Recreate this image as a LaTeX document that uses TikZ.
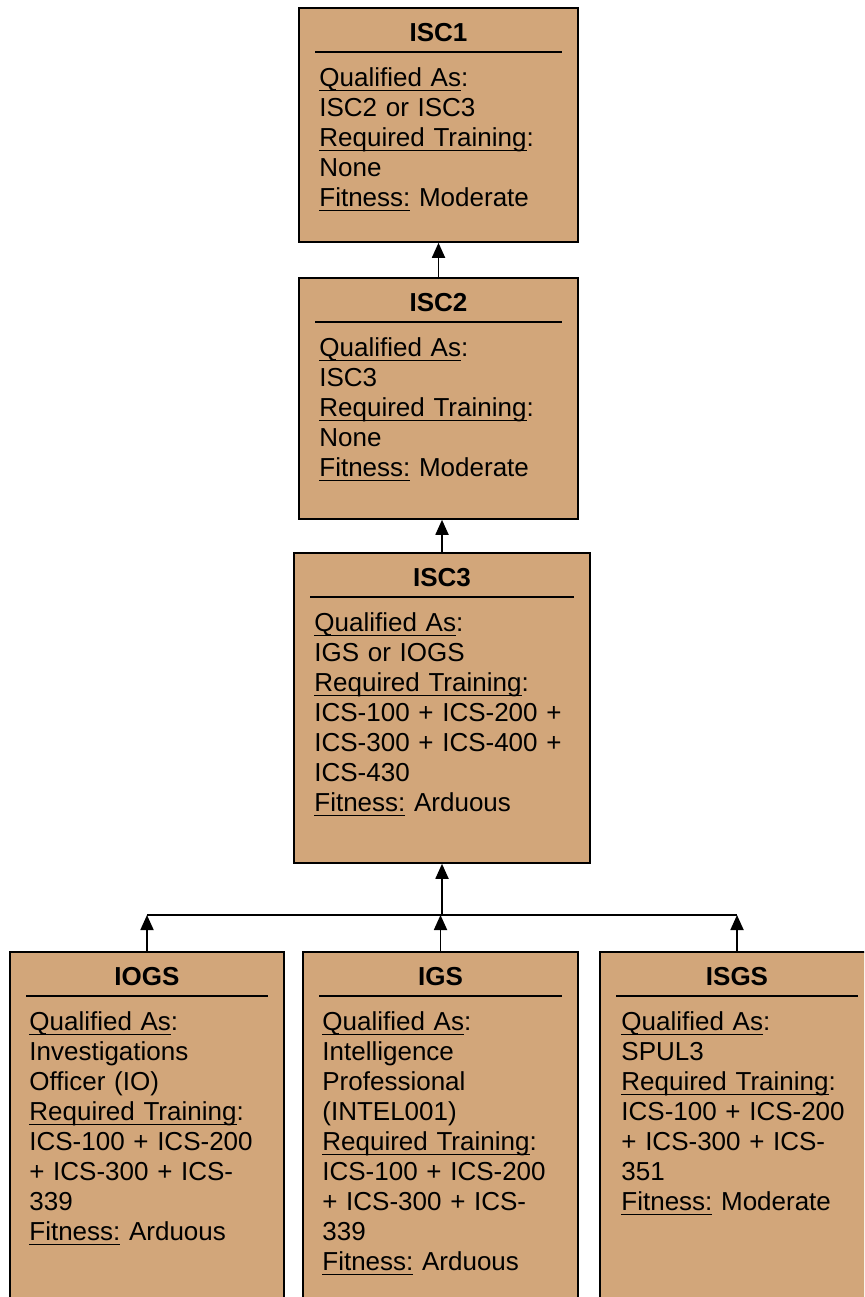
\documentclass[tikz,border=0pt]{standalone}
\usepackage{fontspec}
\setmainfont{Liberation Sans}
\usetikzlibrary{arrows.meta,calc}
\definecolor{tan}{RGB}{210,166,122}
\newcommand\ulx[1]{\leavevmode\setbox0\hbox{#1}\rlap{\rule[-5pt]{\wd0}{1.6pt}}\box0\relax}
\tikzset{
  box/.style={draw=black, fill=tan, line width=1.6pt, inner sep=0pt},
  ttl/.style={font=\fontsize{26}{30}\selectfont\bfseries, anchor=base, inner sep=0pt},
  body/.style={font=\fontsize{26}{30}\selectfont, anchor=base west, inner sep=0pt, align=left},
  sep/.style={line width=1.6pt},
  arr/.style={line width=1.8pt, -{Triangle[length=15pt,width=13pt]}},
  conn/.style={line width=1.6pt}
}
\begin{document}
\begin{tikzpicture}[x=1pt,y=-1pt]
\useasboundingbox (0,0) rectangle (864,1297);
\clip (0,0) rectangle (864,1297);
\fill[white] (0,0) rectangle (864,1297);
% boxes
\node[box, minimum width=279pt, minimum height=234pt] (isc1) at (438.5,125) {};
\node[box, minimum width=279pt, minimum height=241pt] (isc2) at (438.5,398.5) {};
\node[box, minimum width=296pt, minimum height=310pt] (isc3) at (442,708) {};
\node[box, minimum width=274pt, minimum height=380pt] (iogs) at (147,1142) {};
\node[box, minimum width=275pt, minimum height=380pt] (igs) at (440.5,1142) {};
\node[box, minimum width=274pt, minimum height=380pt] (isgs) at (737,1142) {};
% titles
\foreach \b/\t in {isc1/ISC1, isc2/ISC2, isc3/ISC3, iogs/IOGS, igs/IGS, isgs/ISGS}{
  \node[ttl] (\b-t) at ($(\b.north)+(0,34)$) {\t};
  \draw[sep] ($(\b.north west)+(17,45)$) -- ($(\b.north east)+(-17,45)$);
}
% bodies
\node[body, text width=250pt] (isc1-b) at ($(isc1.north west)+(21,79)$) {\ulx{Qualified As}:\\ISC2 or ISC3\\\ulx{Required Training}:\\None\\\ulx{Fitness:} Moderate};
\node[body, text width=250pt] (isc2-b) at ($(isc2.north west)+(21,79)$) {\ulx{Qualified As}:\\ISC3\\\ulx{Required Training}:\\None\\\ulx{Fitness:} Moderate};
\node[body, text width=265pt] (isc3-b) at ($(isc3.north west)+(21,79)$) {\ulx{Qualified As}:\\IGS or IOGS\\\ulx{Required Training}:\\ICS-100 + ICS-200 +\\ICS-300 + ICS-400 +\\ICS-430\\\ulx{Fitness:} Arduous};
\node[body, text width=245pt] (iogs-b) at ($(iogs.north west)+(20,79)$) {\ulx{Qualified As}:\\Investigations\\Officer (IO)\\\ulx{Required Training}:\\ICS-100 + ICS-200\\+ ICS-300 + ICS-\\339\\\ulx{Fitness:} Arduous};
\node[body, text width=245pt] (igs-b) at ($(igs.north west)+(20,79)$) {\ulx{Qualified As}:\\Intelligence\\Professional\\(INTEL001)\\\ulx{Required Training}:\\ICS-100 + ICS-200\\+ ICS-300 + ICS-\\339\\\ulx{Fitness:} Arduous};
\node[body, text width=245pt] (isgs-b) at ($(isgs.north west)+(22,79)$) {\ulx{Qualified As}:\\SPUL3\\\ulx{Required Training}:\\ICS-100 + ICS-200\\+ ICS-300 + ICS-\\351\\\ulx{Fitness:} Moderate};
% connectors
\draw[arr] (isc2.north) -- (isc1.south);
\draw[arr] (isc3.north) -- (isc3.north |- isc2.south);
\coordinate (junc) at (442,915);
\draw[arr] (junc) -- (isc3.south);
\draw[conn] (iogs.north |- junc) -- (isgs.north |- junc);
\draw[arr] (iogs.north) -- (iogs.north |- junc);
\draw[arr] (igs.north) -- (igs.north |- junc);
\draw[arr] (isgs.north) -- (isgs.north |- junc);
\end{tikzpicture}
\end{document}
